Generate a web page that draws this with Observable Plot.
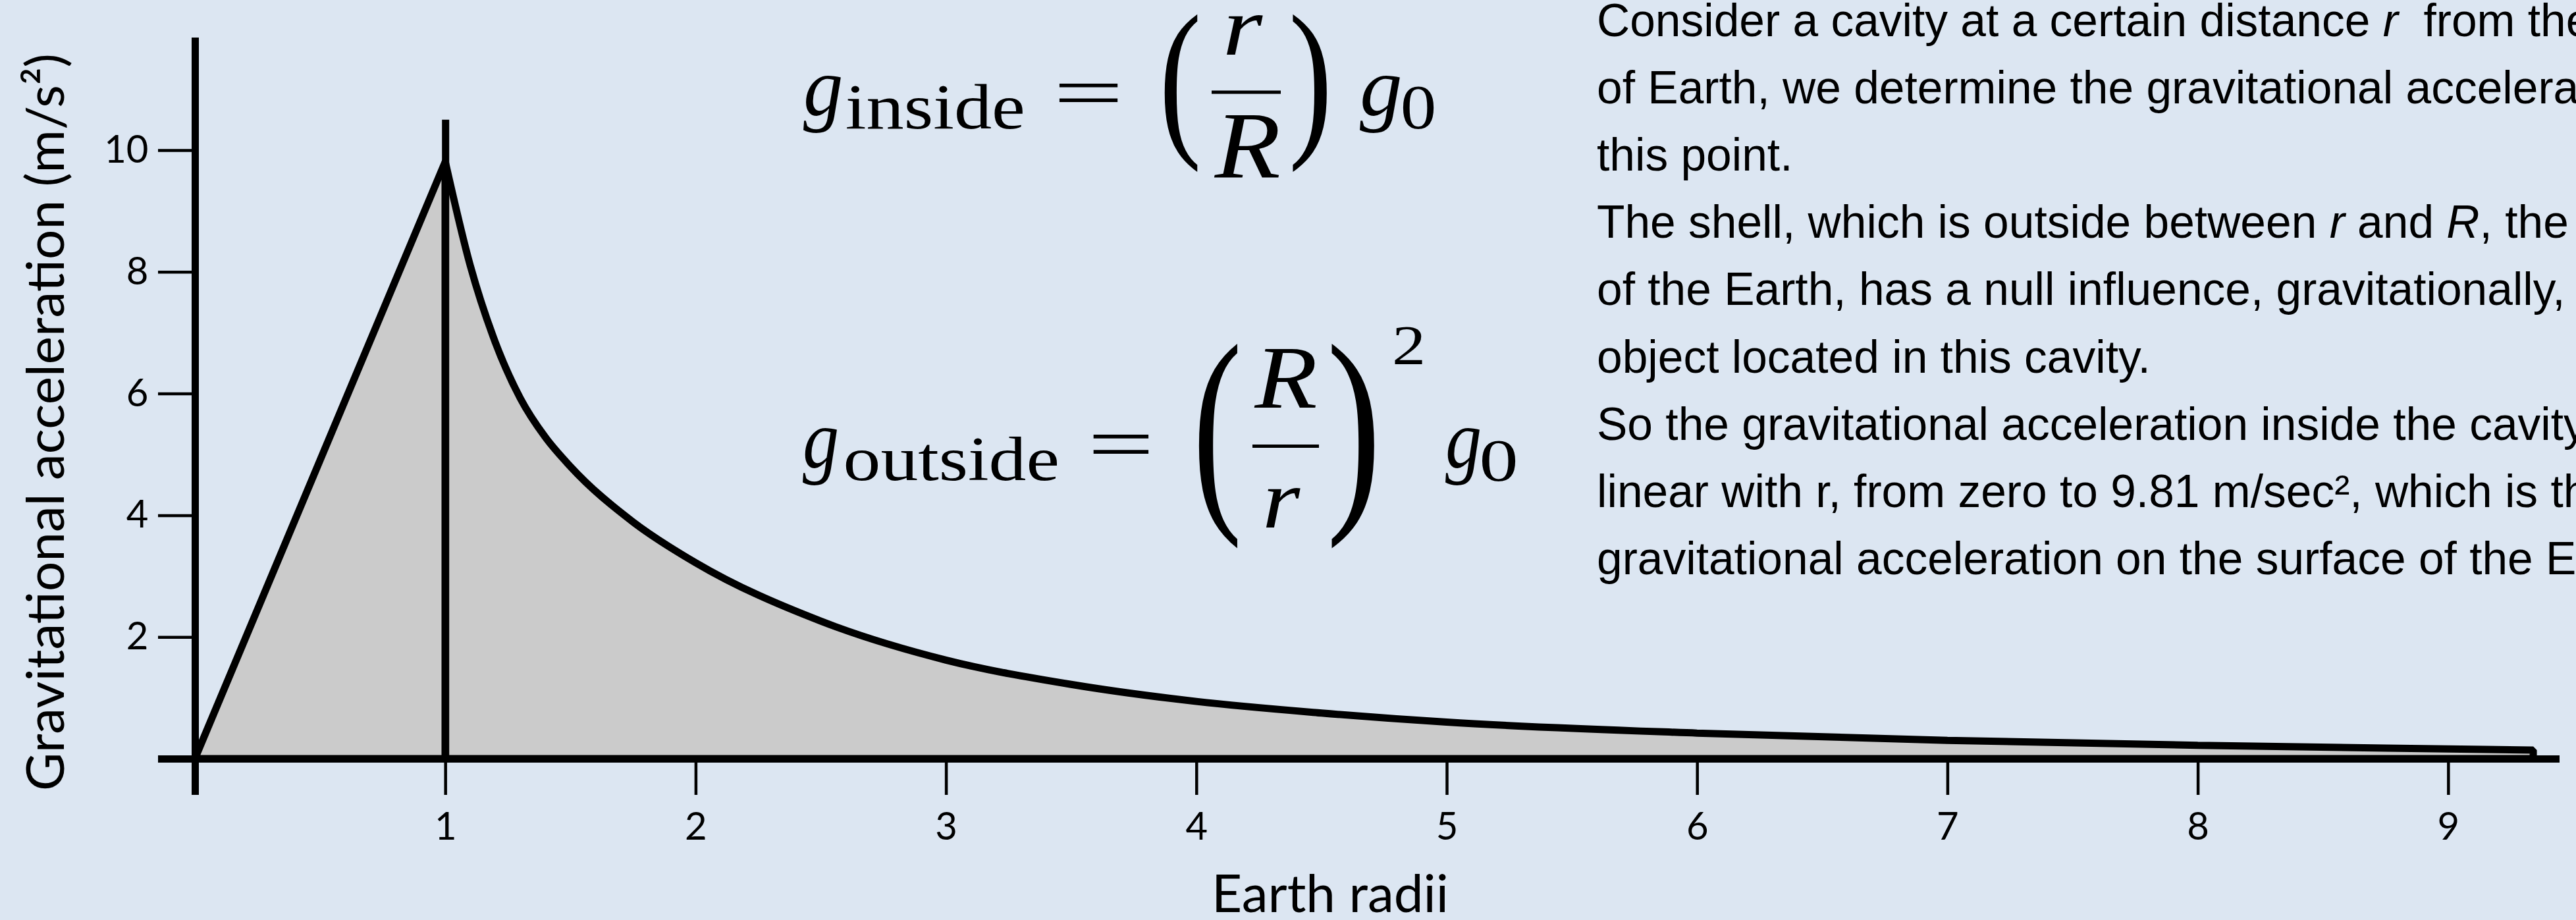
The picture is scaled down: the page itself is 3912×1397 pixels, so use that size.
<!DOCTYPE html>
<html>
<head>
<meta charset="utf-8">
<script src="https://cdn.jsdelivr.net/npm/d3@7"></script>
<script src="https://cdn.jsdelivr.net/npm/@observablehq/plot@0.6"></script>
<style>
  html, body { margin: 0; padding: 0; background: #dce6f2; overflow: hidden; }
  #chart { position: relative; width: 3912px; height: 1397px; }
</style>
</head>
<body>
<div id="chart"></div>
<script>
// Gravitational acceleration against distance from the centre of the Earth (Earth radii)
const radiusInside = [0, 1];
const accelInside = [0, 9.81];
const radiusOutside = [1, 1.1, 1.2, 1.3, 1.4, 1.5, 1.75, 2, 2.5, 3, 3.5, 4, 4.5, 5, 6, 7, 8, 9, 9.34];
const accelOutside = [9.81, 8.1, 6.84, 5.92, 5.28, 4.8, 3.89, 3.22, 2.26, 1.62, 1.22, 0.94, 0.75, 0.6, 0.42, 0.3, 0.22, 0.16, 0.14];
const xTicks = [1, 2, 3, 4, 5, 6, 7, 8, 9];
const yTicks = [2, 4, 6, 8, 10];
const surfaceRadius = 1;
const surfaceMarkerTop = 10.5;
const xLabel = "Earth radii";
const yLabel = "Gravitational acceleration (m/s²)";

// Explanatory paragraph: each line is a list of [text, italic?] runs
const paragraphLines = [
  [["Consider a cavity at a certain distance "], ["r", true], ["  from the center"]],
  [["of Earth, we determine the gravitational acceleration at"]],
  [["this point."]],
  [["The shell, which is outside between "], ["r", true], [" and "], ["R", true], [", the surface"]],
  [["of the Earth, has a null influence, gravitationally, on an"]],
  [["object located in this cavity."]],
  [["So the gravitational acceleration inside the cavity is"]],
  [["linear with r, from zero to 9.81 m/sec², which is the"]],
  [["gravitational acceleration on the surface of the Earth."]]
];

const inside = radiusInside.map((r, i) => ({r, g: accelInside[i]}));
const outside = radiusOutside.map((r, i) => ({r, g: accelOutside[i]}));

const bg = "#dce6f2";
const fillGrey = "#cbcbcb";

const chart = Plot.plot({
  width: 3912,
  height: 1397,
  marginLeft: 296,
  marginRight: 25,
  marginTop: 57,
  marginBottom: 245,
  style: {background: bg, fontFamily: "Lato, sans-serif", color: "black"},
  x: {domain: [0, 9.445], axis: null},
  y: {domain: [0, 11.85], axis: null},
  marks: [
    Plot.areaY(inside, {x: "r", y: "g", fill: fillGrey, stroke: "black", strokeWidth: 11, strokeLinejoin: "round"}),
    Plot.areaY(outside, {x: "r", y: "g", curve: "monotone-x", fill: fillGrey, stroke: "black", strokeWidth: 11, strokeLinejoin: "miter"}),
    Plot.ruleY([0], {stroke: "black", strokeWidth: 11, insetLeft: -56}),
    Plot.ruleX([0], {stroke: "black", strokeWidth: 11, insetBottom: -55}),
    Plot.ruleX([surfaceRadius], {y1: 0, y2: surfaceMarkerTop, stroke: "black", strokeWidth: 11}),
    Plot.axisX({ticks: xTicks, anchor: "bottom", tickSize: 55, tickPadding: 26, strokeWidth: 4.5, fontSize: 58, color: "black", label: null}),
    Plot.axisY({ticks: yTicks, anchor: "left", tickSize: 56, tickPadding: 15, strokeWidth: 4.5, fontSize: 58, color: "black", label: null}),
    Plot.text([yLabel], {frameAnchor: "left", rotate: -90, lineAnchor: "bottom", textAnchor: "middle", dx: -200, dy: 36, fontSize: 80, fill: "black"}),
    Plot.text([xLabel], {frameAnchor: "bottom", lineAnchor: "bottom", textAnchor: "middle", dx: -72, dy: 232, fontSize: 80, fill: "black"})
  ]
});

document.getElementById("chart").append(chart);

// ---- Formulas: each glyph run is scaled so its ink fills the given box ----
const serif = '"Liberation Serif", "Times New Roman", serif';
const ctx = document.createElement("canvas").getContext("2d");
ctx.textAlign = "left";
ctx.textBaseline = "alphabetic";

function fitText(parent, text, italic, [x0, y0, x1, y1]) {
  const style = italic ? "italic" : "normal";
  ctx.font = `${style} 100px ${serif}`;
  const m = ctx.measureText(text);
  const inkW = m.actualBoundingBoxLeft + m.actualBoundingBoxRight;
  const inkH = m.actualBoundingBoxAscent + m.actualBoundingBoxDescent;
  const sx = (x1 - x0) / inkW;
  const sy = (y1 - y0) / inkH;
  parent.append("text")
    .attr("transform", `translate(${x0 + m.actualBoundingBoxLeft * sx},${y0 + m.actualBoundingBoxAscent * sy}) scale(${sx},${sy})`)
    .attr("text-anchor", "start")
    .attr("font-family", serif)
    .attr("font-style", style)
    .attr("font-size", 100)
    .attr("fill", "black")
    .text(text);
}

function fractionBar(parent, [x0, y0, x1, y1]) {
  parent.append("rect").attr("x", x0).attr("y", y0).attr("width", x1 - x0).attr("height", y1 - y0).attr("fill", "black");
}

const svg = d3.select(chart);
const formulas = svg.append("g").attr("class", "formulas").attr("text-anchor", "start");

// g_inside = (r / R) g_0
fitText(formulas, "g", true, [1220, 115, 1278, 202]);
fitText(formulas, "inside", false, [1286, 128, 1553, 196]);
fitText(formulas, "=", false, [1607, 126, 1698, 154]);
fitText(formulas, "(", false, [1768, 20, 1820, 263]);
fitText(formulas, "r", true, [1863, 22, 1919, 83]);
fractionBar(formulas, [1840, 137.5, 1945, 142.5]);
fitText(formulas, "R", true, [1843, 175, 1943, 270]);
fitText(formulas, ")", false, [1963, 20, 2015, 263]);
fitText(formulas, "g", true, [2065, 115, 2127, 202]);
fitText(formulas, "0", false, [2130, 132, 2178, 197]);

// g_outside = (R / r)^2 g_0
fitText(formulas, "g", true, [1219, 650, 1272, 737]);
fitText(formulas, "outside", false, [1284, 663, 1605, 730]);
fitText(formulas, "=", false, [1659, 660, 1745, 689]);
fitText(formulas, "(", false, [1820, 520, 1881, 835]);
fitText(formulas, "R", true, [1904, 531, 1999, 620]);
fractionBar(formulas, [1902, 675, 2003, 680]);
fitText(formulas, "r", true, [1923, 740, 1976, 801]);
fitText(formulas, ")", false, [2022, 520, 2087, 835]);
fitText(formulas, "2", false, [2118, 497, 2160, 554]);
fitText(formulas, "g", true, [2195, 650, 2248, 737]);
fitText(formulas, "0", false, [2250, 670, 2302, 732]);

// ---- Paragraph ----
const para = svg.append("g")
  .attr("class", "paragraph")
  .attr("text-anchor", "start")
  .attr("font-family", '"Liberation Sans", Arial, sans-serif')
  .attr("font-size", 69.5)
  .attr("fill", "black")
  .style("white-space", "pre");

paragraphLines.forEach((runs, i) => {
  const t = para.append("text").attr("x", 2425).attr("y", 55 + i * 102.1);
  runs.forEach(([s, italic]) => {
    t.append("tspan").attr("font-style", italic ? "italic" : "normal").text(s);
  });
});
</script>
</body>
</html>
